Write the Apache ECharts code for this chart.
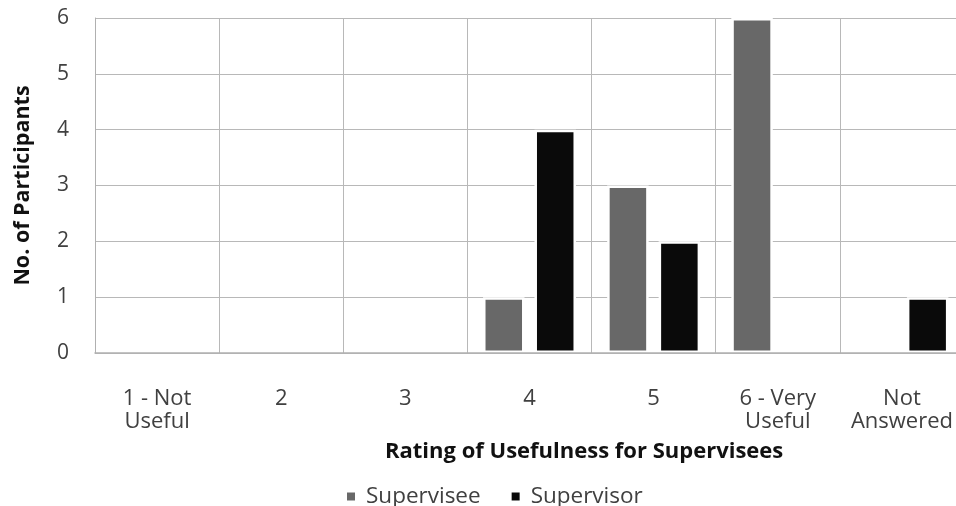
<!DOCTYPE html>
<html>
<head>
<meta charset="utf-8">
<script src="https://cdn.jsdelivr.net/npm/echarts@6/dist/echarts.min.js"></script>
<style>
  html, body { margin: 0; padding: 0; background: #fff; }
  #chart { width: 956px; height: 506px; }
</style>
</head>
<body>
<div id="chart"></div>
<script>
// Rating categories on the x axis
const categories = ['1 - Not\nUseful', '2', '3', '4', '5', '6 - Very\nUseful', 'Not\nAnswered'];
// Participant counts per rating
const superviseeCounts = [0, 0, 0, 1, 3, 6, 0];
const supervisorCounts = [0, 0, 0, 4, 2, 0, 1];
// Y axis ticks
const yTicks = [0, 1, 2, 3, 4, 5, 6];

const FONT = "'Open Sans', sans-serif";
const GRID_COLOR = '#b8b8b8';
const chart = echarts.init(document.getElementById('chart'), null, { renderer: 'canvas' });

// Zero counts get no white outline so the baseline stays unbroken
function barData(values) {
  return values.map(v => v === 0 ? { value: v, itemStyle: { borderWidth: 0, opacity: 0 } } : v);
}

chart.setOption({
  animation: false,
  backgroundColor: '#ffffff',
  textStyle: { fontFamily: FONT },
  grid: { left: 95, top: 18, width: 869, height: 335, containLabel: false, outerBoundsMode: 'none' },
  xAxis: [
    {
      type: 'category',
      data: categories,
      axisLine: { show: false },
      axisTick: { show: false },
      splitLine: { show: true, lineStyle: { color: GRID_COLOR, width: 1 } },
      axisLabel: {
        interval: 0,
        margin: 34,
        color: '#404040',
        fontSize: 22,
        lineHeight: 23,
        fontFamily: FONT
      }
    },
    {
      // baseline drawn above the bars
      type: 'category',
      data: categories,
      position: 'bottom',
      z: 10,
      axisLine: { show: true, lineStyle: { color: '#b0b0b0', width: 1.5 } },
      axisTick: { show: false },
      axisLabel: { show: false },
      splitLine: { show: false }
    }
  ],
  yAxis: {
    type: 'value',
    min: yTicks[0],
    max: yTicks[yTicks.length - 1],
    interval: 1,
    name: 'No. of Participants',
    nameLocation: 'middle',
    nameGap: 61,
    nameTextStyle: { fontSize: 21.5, fontWeight: 'bold', color: '#111', fontFamily: FONT },
    axisLine: { show: true, lineStyle: { color: '#b0b0b0' } },
    axisTick: { show: false },
    splitLine: { show: true, lineStyle: { color: GRID_COLOR, width: 1 } },
    axisLabel: { margin: 26, color: '#404040', fontSize: 21, fontFamily: FONT }
  },
  legend: {
    left: 340,
    top: 480,
    icon: 'rect',
    itemWidth: 10,
    itemHeight: 10,
    itemGap: 29,
    textStyle: { fontSize: 22.5, color: '#404040', fontFamily: FONT, padding: [0, 0, 0, 5] },
    data: ['Supervisee', 'Supervisor']
  },
  graphic: [{
    type: 'text',
    left: 385,
    top: 441,
    style: {
      text: 'Rating of Usefulness for Supervisees',
      font: "bold 22px 'Open Sans', sans-serif",
      fill: '#111'
    }
  }],
  series: [
    {
      name: 'Supervisee',
      type: 'bar',
      data: barData(superviseeCounts),
      barWidth: 41.5,
      barGap: '24%',
      itemStyle: { color: '#686868', borderColor: '#ffffff', borderWidth: 2.5 }
    },
    {
      name: 'Supervisor',
      type: 'bar',
      data: barData(supervisorCounts),
      barWidth: 41.5,
      barGap: '24%',
      itemStyle: { color: '#0a0a0a', borderColor: '#ffffff', borderWidth: 2.5 }
    }
  ]
});
</script>
</body>
</html>
